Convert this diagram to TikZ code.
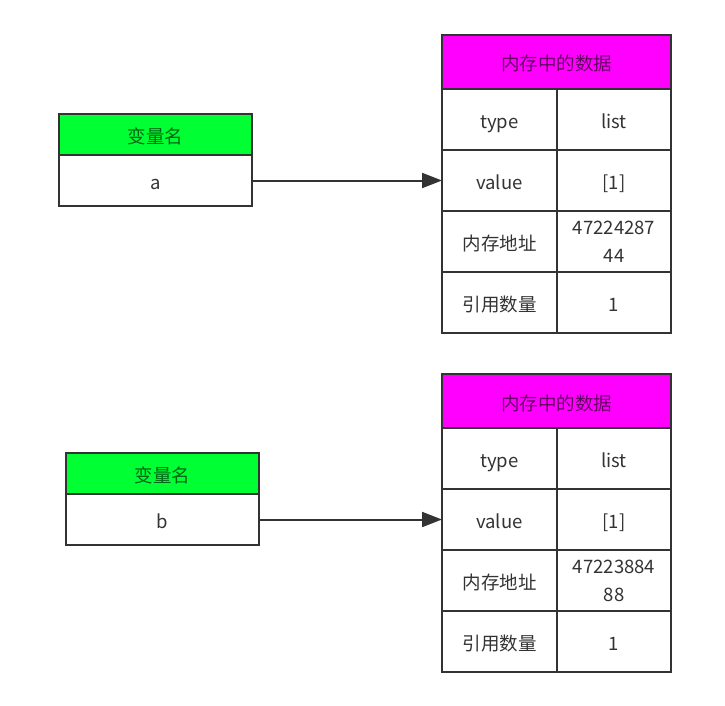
\documentclass[tikz,border=0pt]{standalone}
\usepackage{fontspec}
\setmainfont{Noto Sans CJK SC}
\usetikzlibrary{arrows.meta}
\definecolor{varhead}{HTML}{00FF33}
\definecolor{memhead}{HTML}{FF00FF}
\definecolor{edge}{HTML}{333333}
\newcommand\cellstrut{\rule[-5pt]{0pt}{28pt}}
\newcommand\tailstrut{\rule[-9pt]{0pt}{0pt}}

\begin{document}
\begin{tikzpicture}[x=1pt,y=-1pt,
  cell/.style={draw=edge,line width=2pt,outer sep=0pt,inner sep=0pt,
    anchor=north west,align=center,text=edge,
    font=\fontsize{18.5}{28}\selectfont},
  headcell/.style={cell,text=black,text opacity=.6},
  link/.style={-{Triangle[length=20pt,width=15pt]},draw=edge,line width=2pt}]
  \path[use as bounding box] (0,0) rectangle (725,706);
  \fill[white] (0,0) rectangle (725,706);

  % one variable box on the left and one memory table on the right per block
  \foreach \blk/\lx/\ly/\ty/\var/\addr in
      {A/59/114/35/a/{47224287\\\tailstrut44},
       B/66/453/374/b/{47223884\\\tailstrut88}}{
    \node[headcell,fill=varhead,minimum width=193pt,minimum height=41pt]
      (var\blk-head) at (\lx,\ly) {\cellstrut 变量名};
    \node[cell,minimum width=193pt,minimum height=51pt]
      (var\blk) at (\lx,\ly+41) {\cellstrut\var};

    \node[headcell,fill=memhead,minimum width=229pt,minimum height=54pt]
      (mem\blk-head) at (442,\ty) {\cellstrut 内存中的数据};
    \foreach \k/\v [count=\r from 0] in
        {type/list,value/{[1]},内存地址/{\addr},引用数量/1}{
      \node[cell,minimum width=115pt,minimum height=61pt]
        (mem\blk-key\r) at (442,\ty+54+61*\r) {\cellstrut\k};
      \node[cell,minimum width=114pt,minimum height=61pt]
        (mem\blk-val\r) at (557,\ty+54+61*\r) {\cellstrut\v};
    }

    % the name points at the value row of its table
    \draw[link] (var\blk.east) -- (mem\blk-key1.west);
  }
\end{tikzpicture}
\end{document}
